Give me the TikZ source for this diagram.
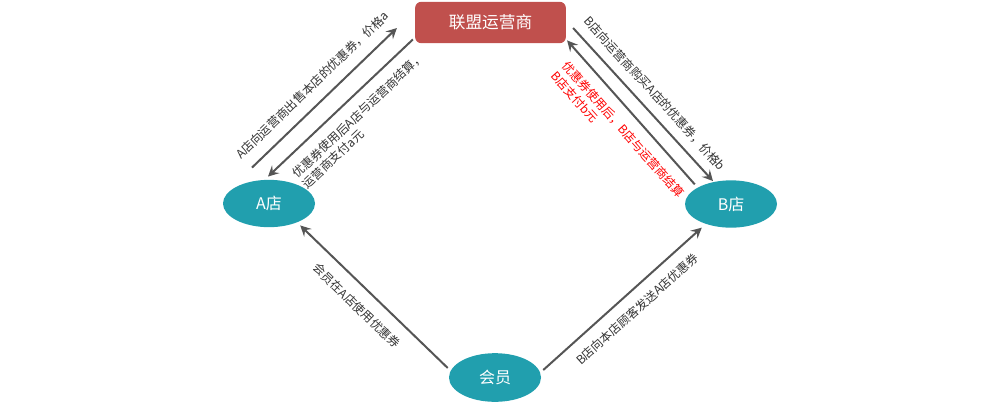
\documentclass[tikz,border=0pt]{standalone}
\usepackage{fontspec}
\setmainfont{Noto Sans CJK SC}
\usetikzlibrary{calc,positioning,arrows.meta,shapes.geometric}
\definecolor{opred}{HTML}{C0504D}
\definecolor{shopteal}{HTML}{219FAE}
\definecolor{arrowgray}{HTML}{555555}
\definecolor{notegray}{HTML}{333333}

\begin{document}
\begin{tikzpicture}[x=0.75pt, y=-0.75pt,
    shop/.style={ellipse, fill=shopteal, text=white, minimum width=69pt, minimum height=35.5pt, inner sep=0pt, font=\fontsize{12}{14}\selectfont},
    flow/.style={draw=arrowgray, line width=1.5pt, -{Stealth[length=8pt,width=8pt,inset=3pt]}},
    note/.style={sloped, inner sep=0pt, text=notegray, font=\fontsize{9}{11}\selectfont, align=left}]
    \useasboundingbox (0,0) rectangle (1000,404);
    \node[fill=opred, rounded corners=4.5pt, text=white, minimum width=113pt, minimum height=31pt, font=\fontsize{12.5}{15}\selectfont] (op) at (490.5,22.5) {联盟运营商}; % operator
    \node[shop] (A) at (269,203.5) {A店};
    \node[shop] (B) at (731,204) {B店};
    \node[shop, minimum height=36.5pt] (member) at (495,377.5) {会员};

    \draw[flow] ($(A.north)+(-17,-12)$) -- ($(op.west)+(-18,5.5)$) node[note, midway, above=8pt] {A店向运营商出售本店的优惠券，价格a};
    \draw[flow] ($(op.south west)+(-2,-4)$) -- ($(A.north)+(-1,-3)$) node[note, pos=0.46, below=8pt] {优惠券使用后A店与运营商结算，\\运营商支付a元};
    \draw[flow] ($(op.east)+(7,5.5)$) -- ($(B.north)+(-18,1)$) node[note, midway, above=7pt] {B店向运营商购买A店的优惠券，价格b};
    \draw[flow] ($(B.north west)+(-3.5,-2.7)$) -- ($(op.south east)+(1,-3)$) node[note, pos=0.46, below=8pt, text=red] {优惠券使用后，B店与运营商结算\\B店支付b元};
    \draw[flow] ($(member.west)+(-1,-9.5)$) -- ($(A.south east)+(-1.5,5)$) node[note, pos=0.53, below=9pt] {会员在A店使用优惠券};
    \draw[flow] ($(member.east)+(2,-7.5)$) -- ($(B.south west)+(3.5,6.7)$) node[note, pos=0.52, below=8pt] {B店向本店顾客发送A店优惠券};
\end{tikzpicture}
\end{document}
